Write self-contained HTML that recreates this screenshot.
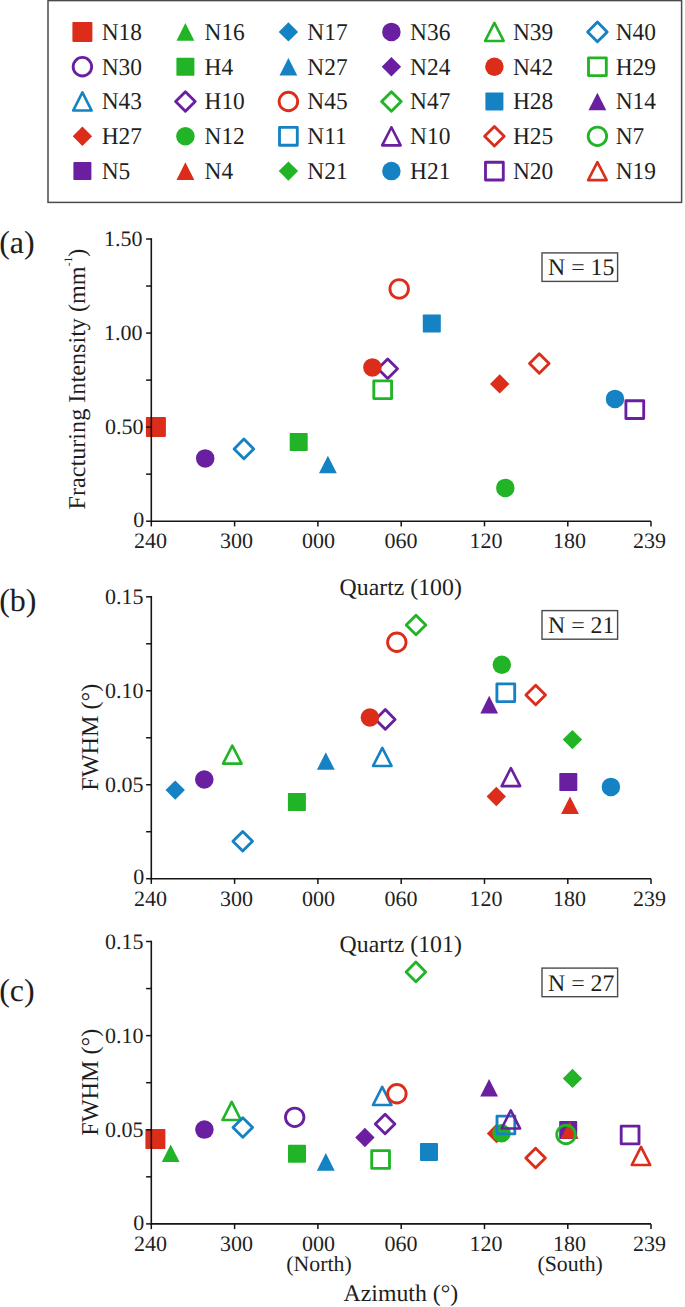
<!DOCTYPE html>
<html><head><meta charset="utf-8"><style>
html,body{margin:0;padding:0;background:#fff;}
svg{display:block;}
text{font-family:"Liberation Serif",serif;fill:#1e1e1e;text-rendering:geometricPrecision;}
.lg{font-size:24.2px;}
.tk{font-size:22px;}
.tt{font-size:23.8px;}
.yt{font-size:24.2px;}
.nb{font-size:21.8px;}
.pl{font-size:32px;}
</style></head><body>
<svg width="685" height="1307" viewBox="0 0 685 1307">
<rect x="48.0" y="0.6" width="633.6" height="201.8" fill="none" stroke="#4a4a4a" stroke-width="1.5"/><rect x="72.40" y="21.90" width="20.00" height="20.00" rx="0.8" fill="#DC2D1B"/><text transform="translate(101.7,39.8) scale(0.968,1)" class="lg">N18</text><path d="M185.40,23.10L194.30,40.70L176.50,40.70Z" fill="#20B426"/><text transform="translate(204.5,39.8) scale(0.968,1)" class="lg">N16</text><path d="M288.40,22.20L298.10,31.90L288.40,41.60L278.70,31.90Z" fill="#1482C3"/><text transform="translate(307.3,39.8) scale(0.968,1)" class="lg">N17</text><circle cx="391.40" cy="31.90" r="9.25" fill="#6A1FA0"/><text transform="translate(410.1,39.8) scale(0.968,1)" class="lg">N36</text><path d="M494.40,22.85L503.65,40.95L485.15,40.95Z" fill="none" stroke="#20B426" stroke-width="2.6" stroke-linejoin="round"/><text transform="translate(512.9,39.8) scale(0.968,1)" class="lg">N39</text><path d="M597.40,22.10L607.20,31.90L597.40,41.70L587.60,31.90Z" fill="none" stroke="#1482C3" stroke-width="2.85" stroke-linejoin="round"/><text transform="translate(615.7,39.8) scale(0.968,1)" class="lg">N40</text><circle cx="82.40" cy="66.70" r="9.25" fill="none" stroke="#6A1FA0" stroke-width="2.85"/><text transform="translate(101.7,74.6) scale(0.968,1)" class="lg">N30</text><rect x="176.40" y="57.70" width="18.00" height="18.00" rx="0.8" fill="#20B426"/><text transform="translate(204.5,74.6) scale(0.968,1)" class="lg">H4</text><path d="M288.40,57.90L297.30,75.50L279.50,75.50Z" fill="#1482C3"/><text transform="translate(307.3,74.6) scale(0.968,1)" class="lg">N27</text><path d="M391.40,57.00L401.10,66.70L391.40,76.40L381.70,66.70Z" fill="#6A1FA0"/><text transform="translate(410.1,74.6) scale(0.968,1)" class="lg">N24</text><circle cx="494.40" cy="66.70" r="9.25" fill="#DC2D1B"/><text transform="translate(512.9,74.6) scale(0.968,1)" class="lg">N42</text><rect x="588.50" y="57.80" width="17.80" height="17.80" fill="none" stroke="#20B426" stroke-width="2.85" stroke-linejoin="round"/><text transform="translate(615.7,74.6) scale(0.968,1)" class="lg">H29</text><path d="M82.40,92.45L91.65,110.55L73.15,110.55Z" fill="none" stroke="#1482C3" stroke-width="2.6" stroke-linejoin="round"/><text transform="translate(101.7,109.4) scale(0.968,1)" class="lg">N43</text><path d="M185.40,91.70L195.20,101.50L185.40,111.30L175.60,101.50Z" fill="none" stroke="#6A1FA0" stroke-width="2.85" stroke-linejoin="round"/><text transform="translate(204.5,109.4) scale(0.968,1)" class="lg">H10</text><circle cx="288.40" cy="101.50" r="9.25" fill="none" stroke="#DC2D1B" stroke-width="2.85"/><text transform="translate(307.3,109.4) scale(0.968,1)" class="lg">N45</text><path d="M391.40,91.70L401.20,101.50L391.40,111.30L381.60,101.50Z" fill="none" stroke="#20B426" stroke-width="2.85" stroke-linejoin="round"/><text transform="translate(410.1,109.4) scale(0.968,1)" class="lg">N47</text><rect x="485.40" y="92.50" width="18.00" height="18.00" rx="0.8" fill="#1482C3"/><text transform="translate(512.9,109.4) scale(0.968,1)" class="lg">H28</text><path d="M597.40,92.70L606.30,110.30L588.50,110.30Z" fill="#6A1FA0"/><text transform="translate(615.7,109.4) scale(0.968,1)" class="lg">N14</text><path d="M82.40,126.60L92.10,136.30L82.40,146.00L72.70,136.30Z" fill="#DC2D1B"/><text transform="translate(101.7,144.2) scale(0.968,1)" class="lg">H27</text><circle cx="185.40" cy="136.30" r="9.25" fill="#20B426"/><text transform="translate(204.5,144.2) scale(0.968,1)" class="lg">N12</text><rect x="279.50" y="127.40" width="17.80" height="17.80" fill="none" stroke="#1482C3" stroke-width="2.85" stroke-linejoin="round"/><text transform="translate(307.3,144.2) scale(0.968,1)" class="lg">N11</text><path d="M391.40,127.25L400.65,145.35L382.15,145.35Z" fill="none" stroke="#6A1FA0" stroke-width="2.6" stroke-linejoin="round"/><text transform="translate(410.1,144.2) scale(0.968,1)" class="lg">N10</text><path d="M494.40,126.50L504.20,136.30L494.40,146.10L484.60,136.30Z" fill="none" stroke="#DC2D1B" stroke-width="2.85" stroke-linejoin="round"/><text transform="translate(512.9,144.2) scale(0.968,1)" class="lg">H25</text><circle cx="597.40" cy="136.30" r="9.25" fill="none" stroke="#20B426" stroke-width="2.85"/><text transform="translate(615.7,144.2) scale(0.968,1)" class="lg">N7</text><rect x="73.40" y="162.10" width="18.00" height="18.00" rx="0.8" fill="#6A1FA0"/><text transform="translate(101.7,179.0) scale(0.968,1)" class="lg">N5</text><path d="M185.40,162.30L194.30,179.90L176.50,179.90Z" fill="#DC2D1B"/><text transform="translate(204.5,179.0) scale(0.968,1)" class="lg">N4</text><path d="M288.40,161.40L298.10,171.10L288.40,180.80L278.70,171.10Z" fill="#20B426"/><text transform="translate(307.3,179.0) scale(0.968,1)" class="lg">N21</text><circle cx="391.40" cy="171.10" r="9.25" fill="#1482C3"/><text transform="translate(410.1,179.0) scale(0.968,1)" class="lg">H21</text><rect x="485.50" y="162.20" width="17.80" height="17.80" fill="none" stroke="#6A1FA0" stroke-width="2.85" stroke-linejoin="round"/><text transform="translate(512.9,179.0) scale(0.968,1)" class="lg">N20</text><path d="M597.40,162.05L606.65,180.15L588.15,180.15Z" fill="none" stroke="#DC2D1B" stroke-width="2.6" stroke-linejoin="round"/><text transform="translate(615.7,179.0) scale(0.968,1)" class="lg">N19</text><rect x="145.90" y="416.90" width="20.00" height="20.00" rx="0.8" fill="#DC2D1B"/><circle cx="205.20" cy="458.40" r="9.25" fill="#6A1FA0"/><path d="M243.90,439.10L253.70,448.90L243.90,458.70L234.10,448.90Z" fill="none" stroke="#1482C3" stroke-width="2.85" stroke-linejoin="round"/><rect x="289.70" y="433.00" width="18.00" height="18.00" rx="0.8" fill="#20B426"/><path d="M327.90,455.70L336.80,473.30L319.00,473.30Z" fill="#1482C3"/><path d="M387.70,358.90L397.50,368.70L387.70,378.50L377.90,368.70Z" fill="none" stroke="#6A1FA0" stroke-width="2.85" stroke-linejoin="round"/><rect x="373.80" y="380.80" width="17.80" height="17.80" fill="none" stroke="#20B426" stroke-width="2.85" stroke-linejoin="round"/><circle cx="372.40" cy="367.40" r="9.25" fill="#DC2D1B"/><circle cx="399.20" cy="288.90" r="9.25" fill="none" stroke="#DC2D1B" stroke-width="2.85"/><rect x="422.80" y="314.50" width="18.00" height="18.00" rx="0.8" fill="#1482C3"/><path d="M499.70,374.20L509.40,383.90L499.70,393.60L490.00,383.90Z" fill="#DC2D1B"/><circle cx="505.30" cy="487.90" r="9.25" fill="#20B426"/><path d="M539.30,353.70L549.10,363.50L539.30,373.30L529.50,363.50Z" fill="none" stroke="#DC2D1B" stroke-width="2.85" stroke-linejoin="round"/><circle cx="615.00" cy="398.90" r="9.25" fill="#1482C3"/><rect x="625.90" y="400.70" width="17.80" height="17.80" fill="none" stroke="#6A1FA0" stroke-width="2.85" stroke-linejoin="round"/><path d="M151.3,238.3V521.2H651.0" fill="none" stroke="#141414" stroke-width="1.6"/><path d="M146.10000000000002,521.20H151.3" stroke="#141414" stroke-width="1.5"/><path d="M146.10000000000002,474.17H151.3" stroke="#141414" stroke-width="1.5"/><path d="M146.10000000000002,427.13H151.3" stroke="#141414" stroke-width="1.5"/><path d="M146.10000000000002,380.10H151.3" stroke="#141414" stroke-width="1.5"/><path d="M146.10000000000002,333.07H151.3" stroke="#141414" stroke-width="1.5"/><path d="M146.10000000000002,286.03H151.3" stroke="#141414" stroke-width="1.5"/><path d="M146.10000000000002,239.00H151.3" stroke="#141414" stroke-width="1.5"/><path d="M151.30,521.2V526.4000000000001" stroke="#141414" stroke-width="1.5"/><path d="M234.60,521.2V526.4000000000001" stroke="#141414" stroke-width="1.5"/><path d="M317.90,521.2V526.4000000000001" stroke="#141414" stroke-width="1.5"/><path d="M401.20,521.2V526.4000000000001" stroke="#141414" stroke-width="1.5"/><path d="M484.50,521.2V526.4000000000001" stroke="#141414" stroke-width="1.5"/><path d="M567.80,521.2V526.4000000000001" stroke="#141414" stroke-width="1.5"/><path d="M651.00,521.2V526.4000000000001" stroke="#141414" stroke-width="1.5"/><text x="144.2" y="526.9" class="tk" text-anchor="end">0</text><text x="143.6" y="434.4" class="tk" text-anchor="end">0.50</text><text x="142.4" y="340.4" class="tk" text-anchor="end">1.00</text><text x="142.4" y="246.3" class="tk" text-anchor="end">1.50</text><text x="150.50" y="548.3" class="tk" text-anchor="middle">240</text><text x="236.50" y="548.3" class="tk" text-anchor="middle">300</text><text x="318.50" y="548.3" class="tk" text-anchor="middle">000</text><text x="400.90" y="548.3" class="tk" text-anchor="middle">060</text><text x="486.00" y="548.3" class="tk" text-anchor="middle">120</text><text x="569.60" y="548.3" class="tk" text-anchor="middle">180</text><text x="649.50" y="548.3" class="tk" text-anchor="middle">239</text><path d="M175.20,780.40L184.90,790.10L175.20,799.80L165.50,790.10Z" fill="#1482C3"/><circle cx="204.30" cy="779.50" r="9.25" fill="#6A1FA0"/><path d="M232.30,745.55L241.55,763.65L223.05,763.65Z" fill="none" stroke="#20B426" stroke-width="2.6" stroke-linejoin="round"/><path d="M242.70,831.40L252.50,841.20L242.70,851.00L232.90,841.20Z" fill="none" stroke="#1482C3" stroke-width="2.85" stroke-linejoin="round"/><rect x="287.90" y="793.00" width="18.00" height="18.00" rx="0.8" fill="#20B426"/><path d="M325.80,752.20L334.70,769.80L316.90,769.80Z" fill="#1482C3"/><path d="M382.30,747.85L391.55,765.95L373.05,765.95Z" fill="none" stroke="#1482C3" stroke-width="2.6" stroke-linejoin="round"/><path d="M385.30,709.60L395.10,719.40L385.30,729.20L375.50,719.40Z" fill="none" stroke="#6A1FA0" stroke-width="2.85" stroke-linejoin="round"/><circle cx="369.90" cy="717.50" r="9.25" fill="#DC2D1B"/><circle cx="396.80" cy="642.20" r="9.25" fill="none" stroke="#DC2D1B" stroke-width="2.85"/><path d="M416.00,615.20L425.80,625.00L416.00,634.80L406.20,625.00Z" fill="none" stroke="#20B426" stroke-width="2.85" stroke-linejoin="round"/><circle cx="501.80" cy="664.80" r="9.25" fill="#20B426"/><rect x="496.90" y="683.80" width="17.80" height="17.80" fill="none" stroke="#1482C3" stroke-width="2.85" stroke-linejoin="round"/><path d="M489.20,695.80L498.10,713.40L480.30,713.40Z" fill="#6A1FA0"/><path d="M535.70,685.20L545.50,695.00L535.70,704.80L525.90,695.00Z" fill="none" stroke="#DC2D1B" stroke-width="2.85" stroke-linejoin="round"/><path d="M572.40,729.90L582.10,739.60L572.40,749.30L562.70,739.60Z" fill="#20B426"/><path d="M510.90,768.05L520.15,786.15L501.65,786.15Z" fill="none" stroke="#6A1FA0" stroke-width="2.6" stroke-linejoin="round"/><path d="M496.30,786.80L506.00,796.50L496.30,806.20L486.60,796.50Z" fill="#DC2D1B"/><rect x="559.30" y="773.00" width="18.00" height="18.00" rx="0.8" fill="#6A1FA0"/><path d="M570.00,796.40L578.90,814.00L561.10,814.00Z" fill="#DC2D1B"/><circle cx="610.90" cy="786.90" r="9.25" fill="#1482C3"/><path d="M151.3,596.0999999999999V878.7H651.0" fill="none" stroke="#141414" stroke-width="1.6"/><path d="M146.10000000000002,878.70H151.3" stroke="#141414" stroke-width="1.5"/><path d="M146.10000000000002,831.72H151.3" stroke="#141414" stroke-width="1.5"/><path d="M146.10000000000002,784.73H151.3" stroke="#141414" stroke-width="1.5"/><path d="M146.10000000000002,737.75H151.3" stroke="#141414" stroke-width="1.5"/><path d="M146.10000000000002,690.77H151.3" stroke="#141414" stroke-width="1.5"/><path d="M146.10000000000002,643.78H151.3" stroke="#141414" stroke-width="1.5"/><path d="M146.10000000000002,596.80H151.3" stroke="#141414" stroke-width="1.5"/><path d="M151.30,878.7V883.9000000000001" stroke="#141414" stroke-width="1.5"/><path d="M234.60,878.7V883.9000000000001" stroke="#141414" stroke-width="1.5"/><path d="M317.90,878.7V883.9000000000001" stroke="#141414" stroke-width="1.5"/><path d="M401.20,878.7V883.9000000000001" stroke="#141414" stroke-width="1.5"/><path d="M484.50,878.7V883.9000000000001" stroke="#141414" stroke-width="1.5"/><path d="M567.80,878.7V883.9000000000001" stroke="#141414" stroke-width="1.5"/><path d="M651.00,878.7V883.9000000000001" stroke="#141414" stroke-width="1.5"/><text x="144.2" y="884.4" class="tk" text-anchor="end">0</text><text x="143.6" y="792.0" class="tk" text-anchor="end">0.05</text><text x="143.6" y="698.1" class="tk" text-anchor="end">0.10</text><text x="143.6" y="604.1" class="tk" text-anchor="end">0.15</text><text x="150.50" y="905.7" class="tk" text-anchor="middle">240</text><text x="236.50" y="905.7" class="tk" text-anchor="middle">300</text><text x="318.50" y="905.7" class="tk" text-anchor="middle">000</text><text x="400.90" y="905.7" class="tk" text-anchor="middle">060</text><text x="486.00" y="905.7" class="tk" text-anchor="middle">120</text><text x="569.60" y="905.7" class="tk" text-anchor="middle">180</text><text x="649.50" y="905.7" class="tk" text-anchor="middle">239</text><rect x="145.40" y="1129.00" width="20.00" height="20.00" rx="0.8" fill="#DC2D1B"/><path d="M170.70,1144.50L179.60,1162.10L161.80,1162.10Z" fill="#20B426"/><circle cx="204.40" cy="1129.60" r="9.25" fill="#6A1FA0"/><path d="M231.70,1101.95L240.95,1120.05L222.45,1120.05Z" fill="none" stroke="#20B426" stroke-width="2.6" stroke-linejoin="round"/><path d="M242.80,1117.70L252.60,1127.50L242.80,1137.30L233.00,1127.50Z" fill="none" stroke="#1482C3" stroke-width="2.85" stroke-linejoin="round"/><circle cx="294.70" cy="1117.30" r="9.25" fill="none" stroke="#6A1FA0" stroke-width="2.85"/><rect x="288.00" y="1144.80" width="18.00" height="18.00" rx="0.8" fill="#20B426"/><path d="M325.80,1153.10L334.70,1170.70L316.90,1170.70Z" fill="#1482C3"/><path d="M364.90,1127.80L374.60,1137.50L364.90,1147.20L355.20,1137.50Z" fill="#6A1FA0"/><path d="M385.10,1114.20L394.90,1124.00L385.10,1133.80L375.30,1124.00Z" fill="none" stroke="#6A1FA0" stroke-width="2.85" stroke-linejoin="round"/><rect x="371.70" y="1150.60" width="17.80" height="17.80" fill="none" stroke="#20B426" stroke-width="2.85" stroke-linejoin="round"/><path d="M382.20,1086.95L391.45,1105.05L372.95,1105.05Z" fill="none" stroke="#1482C3" stroke-width="2.6" stroke-linejoin="round"/><circle cx="396.90" cy="1093.70" r="9.25" fill="none" stroke="#DC2D1B" stroke-width="2.85"/><path d="M415.90,962.10L425.70,971.90L415.90,981.70L406.10,971.90Z" fill="none" stroke="#20B426" stroke-width="2.85" stroke-linejoin="round"/><rect x="420.00" y="1142.90" width="18.00" height="18.00" rx="0.8" fill="#1482C3"/><path d="M489.10,1078.90L498.00,1096.50L480.20,1096.50Z" fill="#6A1FA0"/><path d="M496.50,1123.80L506.20,1133.50L496.50,1143.20L486.80,1133.50Z" fill="#DC2D1B"/><circle cx="501.60" cy="1133.20" r="9.25" fill="#20B426"/><rect x="497.00" y="1116.10" width="17.80" height="17.80" fill="none" stroke="#1482C3" stroke-width="2.85" stroke-linejoin="round"/><path d="M510.80,1110.45L520.05,1128.55L501.55,1128.55Z" fill="none" stroke="#6A1FA0" stroke-width="2.6" stroke-linejoin="round"/><path d="M535.60,1148.20L545.40,1158.00L535.60,1167.80L525.80,1158.00Z" fill="none" stroke="#DC2D1B" stroke-width="2.85" stroke-linejoin="round"/><path d="M572.50,1068.70L582.20,1078.40L572.50,1088.10L562.80,1078.40Z" fill="#20B426"/><rect x="559.20" y="1121.00" width="18.00" height="18.00" rx="0.8" fill="#6A1FA0"/><path d="M569.60,1121.20L578.50,1138.80L560.70,1138.80Z" fill="#DC2D1B"/><circle cx="566.00" cy="1134.50" r="9.25" fill="none" stroke="#20B426" stroke-width="2.85"/><rect x="621.20" y="1126.10" width="17.80" height="17.80" fill="none" stroke="#6A1FA0" stroke-width="2.85" stroke-linejoin="round"/><path d="M641.00,1146.95L650.25,1165.05L631.75,1165.05Z" fill="none" stroke="#DC2D1B" stroke-width="2.6" stroke-linejoin="round"/><path d="M151.3,940.8V1223.9H651.0" fill="none" stroke="#141414" stroke-width="1.6"/><path d="M146.10000000000002,1223.90H151.3" stroke="#141414" stroke-width="1.5"/><path d="M146.10000000000002,1176.83H151.3" stroke="#141414" stroke-width="1.5"/><path d="M146.10000000000002,1129.77H151.3" stroke="#141414" stroke-width="1.5"/><path d="M146.10000000000002,1082.70H151.3" stroke="#141414" stroke-width="1.5"/><path d="M146.10000000000002,1035.63H151.3" stroke="#141414" stroke-width="1.5"/><path d="M146.10000000000002,988.57H151.3" stroke="#141414" stroke-width="1.5"/><path d="M146.10000000000002,941.50H151.3" stroke="#141414" stroke-width="1.5"/><path d="M151.30,1223.9V1229.1000000000001" stroke="#141414" stroke-width="1.5"/><path d="M234.60,1223.9V1229.1000000000001" stroke="#141414" stroke-width="1.5"/><path d="M317.90,1223.9V1229.1000000000001" stroke="#141414" stroke-width="1.5"/><path d="M401.20,1223.9V1229.1000000000001" stroke="#141414" stroke-width="1.5"/><path d="M484.50,1223.9V1229.1000000000001" stroke="#141414" stroke-width="1.5"/><path d="M567.80,1223.9V1229.1000000000001" stroke="#141414" stroke-width="1.5"/><path d="M651.00,1223.9V1229.1000000000001" stroke="#141414" stroke-width="1.5"/><text x="144.2" y="1229.6" class="tk" text-anchor="end">0</text><text x="143.6" y="1137.1" class="tk" text-anchor="end">0.05</text><text x="143.6" y="1042.9" class="tk" text-anchor="end">0.10</text><text x="143.6" y="948.8" class="tk" text-anchor="end">0.15</text><text x="150.50" y="1250.6" class="tk" text-anchor="middle">240</text><text x="236.50" y="1250.6" class="tk" text-anchor="middle">300</text><text x="318.50" y="1250.6" class="tk" text-anchor="middle">000</text><text x="400.90" y="1250.6" class="tk" text-anchor="middle">060</text><text x="486.00" y="1250.6" class="tk" text-anchor="middle">120</text><text x="569.60" y="1250.6" class="tk" text-anchor="middle">180</text><text x="649.50" y="1250.6" class="tk" text-anchor="middle">239</text><text x="-0.8" y="253.1" class="pl">(a)</text><text x="-0.8" y="610.6" class="pl">(b)</text><text x="-0.8" y="1000.7" class="pl">(c)</text><text transform="translate(84.5,509.5) rotate(-90)" class="yt">Fracturing Intensity (mm<tspan font-size="11.5" dy="-12.5">-1</tspan><tspan dy="12.5">)</tspan></text><text transform="translate(97.9,790.8) rotate(-90)" class="yt">FWHM (°)</text><text transform="translate(97.9,1135.8) rotate(-90)" class="yt">FWHM (°)</text><text x="339.6" y="594.6" class="tt">Quartz (100)</text><text x="339.6" y="952.2" class="tt">Quartz (101)</text><rect x="542.0" y="252.9" width="75.6" height="28.5" fill="none" stroke="#4a4a4a" stroke-width="1.4"/><text x="548" y="275.3" class="tt">N = 15</text><rect x="542.0" y="610.6" width="75.6" height="28.6" fill="none" stroke="#4a4a4a" stroke-width="1.4"/><text x="548" y="633.0" class="tt">N = 21</text><rect x="542.0" y="968.1" width="75.6" height="28.6" fill="none" stroke="#4a4a4a" stroke-width="1.4"/><text x="548" y="990.5" class="tt">N = 27</text><text x="319" y="1270.6" class="nb" text-anchor="middle">(North)</text><text x="570.2" y="1270.6" class="nb" text-anchor="middle">(South)</text><text x="343.6" y="1301.3" class="tt">Azimuth (°)</text>
</svg></body></html>
